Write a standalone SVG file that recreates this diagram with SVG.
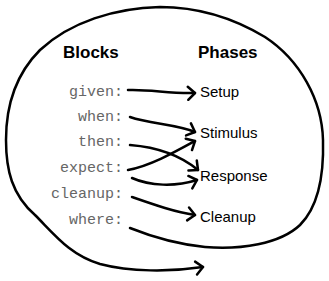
<svg xmlns="http://www.w3.org/2000/svg" width="329" height="281" viewBox="0 0 329 281">
<style>
.hdr{font-family:"Liberation Sans",Arial,sans-serif;font-weight:bold;font-size:17px;fill:#000}
.blk{font-family:"Liberation Mono","Courier New",monospace;font-size:15px;fill:#666;text-anchor:end}
.ph{font-family:"Liberation Sans",Arial,sans-serif;font-size:15px;fill:#000}
.ln{fill:none;stroke:#000;stroke-width:2.5;stroke-linecap:round;stroke-linejoin:round}
</style>
<defs>
<marker id="ah" markerUnits="userSpaceOnUse" markerWidth="20" markerHeight="20" viewBox="-10 -10 20 20" refX="0" refY="0" orient="auto">
<path d="M-7,-6.5 L0,0 L-7,6.5" fill="none" stroke="#000" stroke-width="2.5" stroke-linecap="round" stroke-linejoin="round"/>
</marker>
</defs>
<rect width="329" height="281" fill="#fff"/>
<g id="outline">
<path class="ln" marker-end="url(#ah)" d="M130,228 C150,236 175,244 205,247 C240,250 280,244 300,225 C318,207 324,175 323,140 C322,100 300,60 265,37 C230,16 195,7 160,7 C115,8 70,22 40,50 C15,75 6,105 6,140 C6,170 12,195 35,215 C55,235 70,255 100,264 C130,272 170,272 203,267"/>
</g>
<g id="headers">
<text class="hdr" x="63" y="58">Blocks</text>
<text class="hdr" x="198" y="58">Phases</text>
</g>
<g id="block-given"><text class="blk" x="123" y="96">given:</text></g>
<g id="block-when"><text class="blk" x="123" y="121">when:</text></g>
<g id="block-then"><text class="blk" x="123" y="146">then:</text></g>
<g id="block-expect"><text class="blk" x="123" y="172">expect:</text></g>
<g id="block-cleanup"><text class="blk" x="123" y="198">cleanup:</text></g>
<g id="block-where"><text class="blk" x="123" y="224">where:</text></g>
<g id="phase-setup"><text class="ph" x="200" y="97">Setup</text></g>
<g id="phase-stimulus"><text class="ph" x="200" y="138">Stimulus</text></g>
<g id="phase-response"><text class="ph" x="200" y="181">Response</text></g>
<g id="phase-cleanup"><text class="ph" x="200" y="222">Cleanup</text></g>
<g id="connectors">
<path class="ln" marker-end="url(#ah)" d="M128,90 C150,89 170,94 195,93"/>
<path class="ln" marker-end="url(#ah)" d="M130,117 C150,124 175,124 195,132"/>
<path class="ln" marker-end="url(#ah)" d="M130,145 C155,147 180,155 198,170"/>
<path class="ln" marker-end="url(#ah)" d="M128,170 C150,166 175,152 195,141"/>
<path class="ln" marker-end="url(#ah)" d="M132,178 C150,186 175,187 197,180"/>
<path class="ln" marker-end="url(#ah)" d="M132,197 C155,205 175,212 195,215"/>
</g>
</svg>
